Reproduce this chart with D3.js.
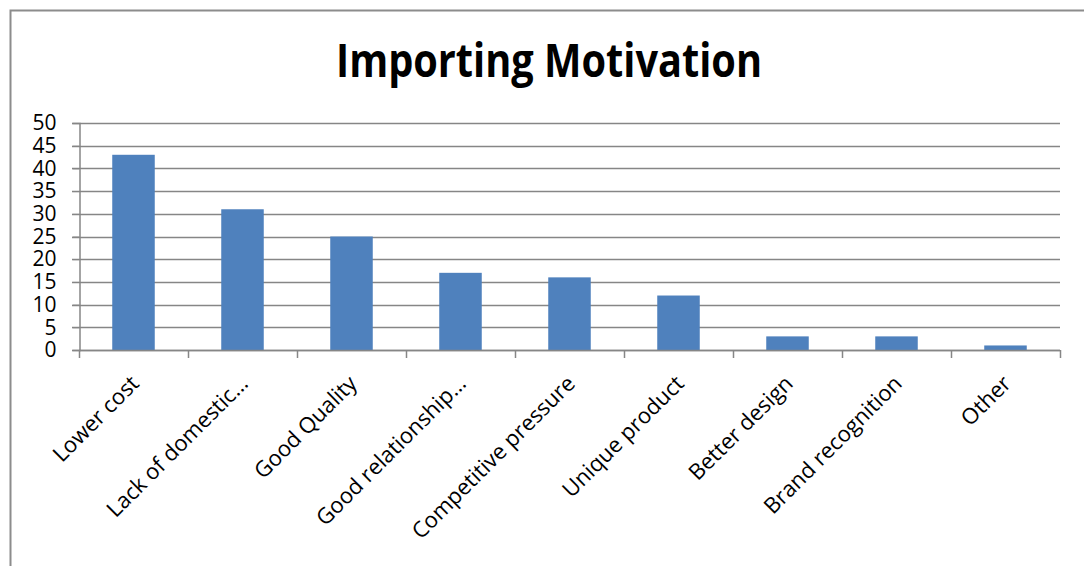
<!DOCTYPE html>
<html>
<head>
<meta charset="utf-8">
<script src="https://cdn.jsdelivr.net/npm/d3@7"></script>
<style>
  body { margin: 0; background: #fff; }
  svg { display: block; }
</style>
</head>
<body>
<div id="chart"></div>
<script>
var categories = ["Lower cost", "Lack of domestic\u2026", "Good Quality", "Good relationship\u2026",
    "Competitive pressure", "Unique product", "Better design", "Brand recognition", "Other"];
var counts = [43, 31, 25, 17, 16, 12, 3, 3, 1];
var yTicks = [0, 5, 10, 15, 20, 25, 30, 35, 40, 45, 50];

var width = 1084, height = 566;
var plotLeft = 79, plotRight = 1060, plotTop = 123, plotBottom = 350;
var font = "'Open Sans', 'Liberation Sans', sans-serif";

var svg = d3.select("#chart")
    .append("svg")
    .attr("width", width)
    .attr("height", height);

// chart frame
svg.append("rect")
    .attr("x", 10.5)
    .attr("y", 10.5)
    .attr("width", width + 20)
    .attr("height", height + 20)
    .attr("fill", "none")
    .attr("stroke", "#8c8c8c")
    .attr("stroke-width", 2);

var x = d3.scaleBand()
    .domain(categories)
    .range([plotLeft, plotRight])
    .padding(0);

var y = d3.scaleLinear()
    .domain([0, 50])
    .range([plotBottom, plotTop]);

svg.append("text")
    .attr("x", 549)
    .attr("y", 77)
    .attr("text-anchor", "middle")
    .attr("font-family", font)
    .attr("font-weight", "bold")
    .attr("font-size", 46)
    .attr("textLength", 426)
    .attr("lengthAdjust", "spacingAndGlyphs")
    .text("Importing Motivation");

// gridlines
svg.append("g")
    .selectAll("line")
    .data(yTicks)
    .enter()
    .append("line")
    .attr("x1", plotLeft - 7)
    .attr("x2", plotRight)
    .attr("y1", function(d) { return Math.round(y(d)) + 0.5; })
    .attr("y2", function(d) { return Math.round(y(d)) + 0.5; })
    .attr("stroke", "#868686")
    .attr("stroke-width", 1.5);

// y axis
var yAxis = svg.append("g")
    .attr("transform", "translate(" + (plotLeft + 0.5) + ",0)")
    .call(d3.axisLeft(y).tickValues(yTicks).tickSize(7).tickPadding(16));
yAxis.select(".domain").attr("stroke", "#868686").attr("stroke-width", 1.5);
yAxis.selectAll(".tick line").attr("stroke", "#868686");
yAxis.selectAll(".tick text")
    .attr("font-family", font)
    .attr("font-size", 21)
    .attr("fill", "#000");

// bars
var barW = x.bandwidth() * 0.39;
svg.append("g")
    .selectAll("rect")
    .data(counts)
    .enter()
    .append("rect")
    .attr("x", function(d, i) { return x(categories[i]) + (x.bandwidth() - barW) / 2; })
    .attr("y", function(d) { return y(d); })
    .attr("width", barW)
    .attr("height", function(d) { return y(0) - y(d); })
    .attr("fill", "#4f81bd");

// x axis with boundary ticks
var xg = svg.append("g");
xg.append("line")
    .attr("x1", plotLeft)
    .attr("x2", plotRight)
    .attr("y1", plotBottom + 0.5)
    .attr("y2", plotBottom + 0.5)
    .attr("stroke", "#868686")
    .attr("stroke-width", 1.5);
xg.selectAll(".bnd")
    .data(categories.concat(["end"]))
    .enter()
    .append("line")
    .attr("x1", function(d, i) { return Math.round(plotLeft + i * x.step()) + 0.5; })
    .attr("x2", function(d, i) { return Math.round(plotLeft + i * x.step()) + 0.5; })
    .attr("y1", plotBottom)
    .attr("y2", plotBottom + 8)
    .attr("stroke", "#868686")
    .attr("stroke-width", 1.5);

xg.selectAll("text")
    .data(categories)
    .enter()
    .append("text")
    .attr("transform", function(d) {
        var cx = x(d) + x.bandwidth() / 2;
        return "translate(" + (cx - 4) + "," + (plotBottom + 24) + ") rotate(-45)";
    })
    .attr("text-anchor", "end")
    .attr("dy", "0.7em")
    .attr("font-family", font)
    .attr("font-size", 22)
    .attr("fill", "#000")
    .text(function(d) { return d; });
</script>
</body>
</html>
